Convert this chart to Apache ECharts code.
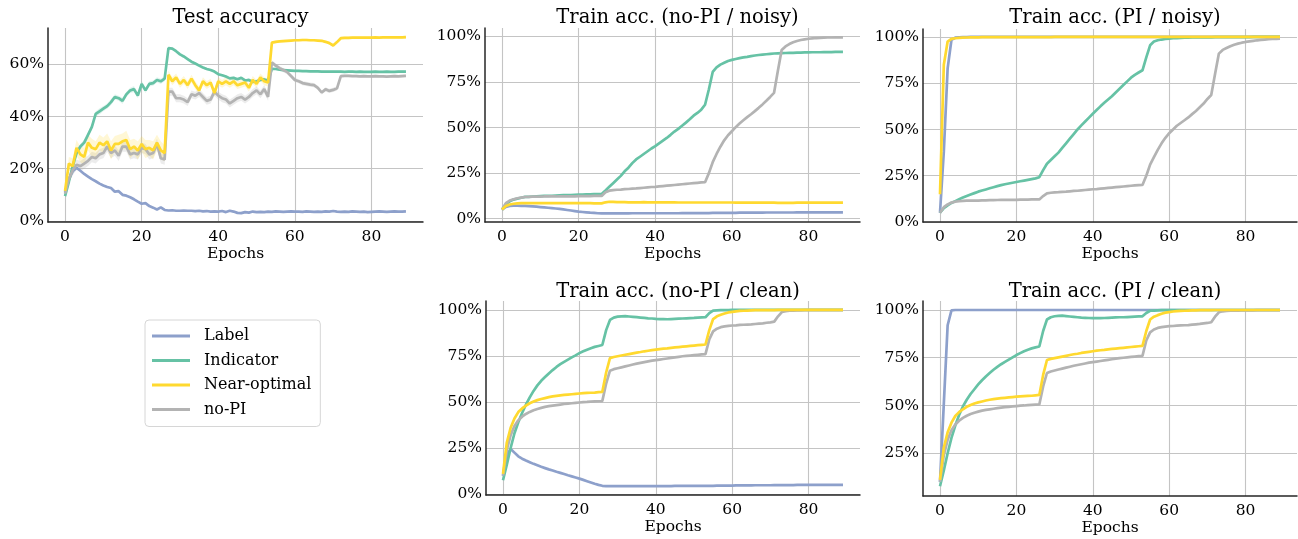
<!DOCTYPE html>
<html>
<head>
<meta charset="utf-8">
<script src="https://cdn.jsdelivr.net/npm/echarts@6/dist/echarts.min.js"></script>
<style>
  html, body { margin: 0; padding: 0; background: #fff; }
  #chart { width: 1298px; height: 539px; }
</style>
</head>
<body>
<div id="chart"></div>
<script>
// ---------------- DATA (values in %, epochs 0..89) ----------------
const seriesNames = ['Label', 'Indicator', 'Near-optimal', 'no-PI'];
const xTicks = [0, 20, 40, 60, 80];
const yTicksTest = [0, 20, 40, 60];
const yTicksTrain = [0, 25, 50, 75, 100];
const yTicksTrainPIClean = [25, 50, 75, 100];
const panelTitles = ['Test accuracy', 'Train acc. (no-PI / noisy)', 'Train acc. (PI / noisy)',
                     'Train acc. (no-PI / clean)', 'Train acc. (PI / clean)'];

// Test accuracy
const testLabel = [
  11, 16, 19, 20.4, 19.2, 18, 17, 16, 15.2, 14.3,
  13.6, 13, 12.6, 11.2, 11.4, 10, 9.7, 9.1, 8.3, 7.4,
  6.6, 6.8, 5.7, 5.1, 4.4, 5.2, 4.2, 4, 4.1, 3.9,
  3.9, 4, 3.9, 3.9, 3.8, 3.9, 3.7, 3.8, 3.6, 3.7,
  3.6, 3.8, 3.4, 3.9, 3.6, 3.1, 3, 3.4, 3.2, 3.6,
  3.4, 3.5, 3.4, 3.6, 3.5, 3.7, 3.6, 3.5, 3.6, 3.7,
  3.6, 3.6, 3.5, 3.7, 3.6, 3.5, 3.6, 3.5, 3.7, 3.6,
  3.8, 3.6, 3.5, 3.6, 3.5, 3.7, 3.6, 3.5, 3.6, 3.4,
  3.5, 3.6, 3.7, 3.6, 3.5, 3.6, 3.7, 3.6, 3.6, 3.7
];
const testIndicator = [
  9.5, 15, 21, 26, 28.5, 30, 33, 36, 41, 42,
  43, 44, 45.5, 47.5, 47, 46, 48.5, 50, 50.5, 48,
  52.5, 50, 52.5, 52.8, 54, 53.5, 54.5, 66.2, 66, 65,
  63.8, 63, 62, 61, 60.3, 59.5, 58.8, 58.2, 57.8, 57.2,
  56.2, 55.8, 55.3, 54.6, 54.8, 54.3, 54.8, 53.8, 54, 53.2,
  53.5, 54, 54.2, 53.8, 58.3, 58.2, 57.9, 57.8, 57.7, 57.6,
  57.5, 57.5, 57.4, 57.4, 57.3, 57.3, 57.3, 57.2, 57.2, 57.2,
  57.2, 57.2, 57.2, 57.1, 57.2, 57.2, 57.1, 57.2, 57.1, 57.1,
  57.1, 57.2, 57.1, 57.1, 57.2, 57.1, 57.1, 57.2, 57.2, 57.2
];
const testNearOpt = [
  11.5, 22, 21, 28, 25.5, 24.5, 30, 28, 27.5, 30,
  29, 30.5, 27, 29.5, 29.5, 30.5, 31, 27.5, 28.5, 27,
  29.5, 27.5, 28, 27, 30, 27, 26, 56, 53.5, 55,
  52.5, 54, 52, 54.5, 52, 50, 53.5, 52, 53, 49,
  53.5, 52.5, 53.5, 52.5, 53.5, 52, 52.5, 53, 51, 54,
  52.5, 55, 53.5, 53, 68.3, 68.6, 68.8, 68.9, 69, 69.1,
  69.2, 69.2, 69.3, 69.3, 69.2, 69.2, 69.1, 69, 68.6, 68.1,
  67.2, 68.5, 70, 70.1, 70.1, 70.2, 70.2, 70.2, 70.2, 70.2,
  70.2, 70.3, 70.2, 70.3, 70.3, 70.3, 70.3, 70.3, 70.3, 70.4
];
const testNoPI = [
  10.5, 16, 19.5, 21.5, 21, 22, 23, 24.5, 24, 25.5,
  26, 28.5, 26, 27, 25, 28.5, 28.5, 25.5, 26, 25.5,
  28, 27.5, 25.5, 26, 29.5, 24, 23.5, 49.5, 49.5, 47,
  47, 46.5, 45.5, 48.5, 48, 49, 47.5, 46, 46.5, 49.5,
  48, 47, 46.5, 45, 46, 47, 47.5, 46.5, 47.5, 49,
  50, 48.5, 50.5, 47.5, 60.7, 59.5, 58.5, 57.8, 57, 55.5,
  54, 53.5, 52.8, 52.5, 52.2, 52, 51, 49.2, 50.4, 49.8,
  50.2, 50.8, 55.5, 55.6, 55.6, 55.5, 55.5, 55.4, 55.5, 55.4,
  55.4, 55.5, 55.4, 55.4, 55.3, 55.4, 55.5, 55.4, 55.5, 55.6
];
// half-widths of the shaded spread around the test curves
const testIndicatorSpread = [
  0.5, 1, 1, 1.2, 1, 1.2, 1, 1.2, 1, 1.2,
  1, 1, 1.2, 1, 1, 1.2, 1, 1, 1.2, 1,
  1.2, 1, 1, 1, 1, 1, 1, 0.5, 0.5, 0.5,
  0.5, 0.5, 0.5, 0.5, 0.5, 0.5, 0.5, 0.5, 0.5, 0.5,
  0.5, 0.5, 0.5, 0.5, 0.5, 0.5, 0.5, 0.5, 0.5, 0.5,
  0.5, 0.5, 0.5, 0.5, 0.4, 0.4, 0.4, 0.4, 0.4, 0.4,
  0.4, 0.4, 0.4, 0.4, 0.4, 0.4, 0.4, 0.4, 0.4, 0.4,
  0.4, 0.4, 0.4, 0.4, 0.4, 0.4, 0.4, 0.4, 0.4, 0.4,
  0.4, 0.4, 0.4, 0.4, 0.4, 0.4, 0.4, 0.4, 0.4, 0.4
];
const testNearOptSpread = [
  0.8, 2.5, 3, 3, 3, 3.5, 3, 3.5, 3, 3,
  3, 3, 3.5, 3, 3.5, 3, 3.5, 3.5, 3, 3.5,
  3, 3.5, 3, 3.5, 3, 3.5, 3, 1.5, 1.5, 1.5,
  1.5, 1.5, 1.5, 1.5, 1.5, 1.5, 1.5, 1.5, 1.5, 1.5,
  1.5, 1.5, 1.5, 1.5, 1.5, 1.5, 1.5, 1.5, 1.5, 1.5,
  1.5, 1.5, 1.5, 1.5, 0.5, 0.5, 0.5, 0.5, 0.5, 0.5,
  0.5, 0.5, 0.5, 0.5, 0.5, 0.5, 0.5, 0.5, 0.5, 0.5,
  0.5, 0.5, 0.5, 0.5, 0.5, 0.5, 0.5, 0.5, 0.5, 0.5,
  0.5, 0.5, 0.5, 0.5, 0.5, 0.5, 0.5, 0.5, 0.5, 0.5
];
const testNoPISpread = [
  0.8, 1.5, 2, 2, 2, 2, 2, 2, 2, 2,
  2, 2, 2, 2, 2, 2, 2, 2, 2, 2,
  2, 2, 2, 2, 2, 2, 2, 1.5, 1.5, 1.5,
  1.5, 1.5, 1.5, 1.5, 1.5, 1.5, 1.5, 1.5, 1.5, 1.5,
  1.5, 1.5, 1.5, 1.5, 1.5, 1.5, 1.5, 1.5, 1.5, 1.5,
  1.5, 1.5, 1.5, 1.5, 0.8, 0.8, 0.8, 0.8, 0.8, 0.8,
  0.8, 0.8, 0.8, 0.8, 0.8, 0.8, 0.8, 0.8, 0.8, 0.8,
  0.8, 0.8, 0.5, 0.5, 0.5, 0.5, 0.5, 0.5, 0.5, 0.5,
  0.5, 0.5, 0.5, 0.5, 0.5, 0.5, 0.5, 0.5, 0.5, 0.5
];

// Train acc. (no-PI / noisy)
const noisyNoPILabel = [
  5, 6.5, 7, 7.1, 7.1, 7, 7, 6.9, 6.8, 6.6,
  6.4, 6.2, 6, 5.8, 5.6, 5.4, 5.1, 4.8, 4.5, 4.2,
  3.9, 3.7, 3.5, 3.3, 3.2, 3, 2.9, 2.9, 2.9, 2.9,
  2.9, 2.9, 2.9, 2.9, 3, 3, 3, 3, 3, 3,
  3, 3, 3, 3, 3, 3, 3, 3.1, 3.1, 3.1,
  3.1, 3.1, 3.1, 3.1, 3.1, 3.2, 3.2, 3.2, 3.2, 3.2,
  3.2, 3.2, 3.3, 3.3, 3.3, 3.3, 3.3, 3.3, 3.3, 3.4,
  3.4, 3.4, 3.4, 3.4, 3.4, 3.4, 3.4, 3.5, 3.5, 3.5,
  3.5, 3.5, 3.5, 3.5, 3.5, 3.5, 3.5, 3.5, 3.5, 3.5
];
const noisyNoPIIndicator = [
  5, 8, 9.5, 10.5, 11, 11.5, 12, 12, 12.2, 12.3,
  12.4, 12.5, 12.5, 12.6, 12.7, 12.8, 12.9, 13, 13, 13.1,
  13.2, 13.2, 13.3, 13.4, 13.5, 13.5, 13.6, 15.5, 17.5, 19.5,
  21.5, 23.5, 26, 28, 30.5, 32.5, 34, 35.5, 37, 38.5,
  39.8, 41.3, 42.8, 44.3, 46, 47.8, 49.3, 51, 52.7, 54.5,
  56.5, 58, 59.8, 62.5, 71, 80.5, 83, 84.5, 85.5, 86.5,
  87.1, 87.6, 88.1, 88.5, 88.8, 89.2, 89.5, 89.8, 90, 90.2,
  90.4, 90.6, 90.7, 90.8, 90.9, 91, 91, 91.1, 91.1, 91.2,
  91.2, 91.3, 91.3, 91.3, 91.4, 91.4, 91.4, 91.5, 91.5, 91.5
];
const noisyNoPINearOpt = [
  5, 7, 7.8, 8.2, 8.4, 8.5, 8.5, 8.5, 8.6, 8.6,
  8.6, 8.6, 8.6, 8.6, 8.6, 8.6, 8.6, 8.6, 8.6, 8.6,
  8.6, 8.6, 8.5, 8.5, 8.4, 8.4, 8.4, 9, 9.3, 9.2,
  9.1, 9.1, 9.1, 9, 9, 9, 9, 9.1, 9, 9,
  9, 9, 9, 9, 9, 9, 8.9, 8.9, 8.9, 8.9,
  8.9, 8.9, 8.9, 8.9, 8.9, 8.9, 8.9, 8.9, 8.9, 8.9,
  8.9, 8.8, 8.8, 8.8, 8.8, 8.8, 8.8, 8.8, 8.8, 8.8,
  8.8, 8.8, 8.7, 8.7, 8.7, 8.7, 8.7, 8.8, 8.8, 8.8,
  8.8, 8.8, 8.8, 8.8, 8.8, 8.8, 8.8, 8.8, 8.8, 8.8
];
const noisyNoPINoPI = [
  5, 8.5, 10, 10.7, 11.2, 11.6, 11.9, 12, 12.1, 12.1,
  12.1, 12.2, 12.2, 12.2, 12.2, 12.3, 12.3, 12.3, 12.3, 12.3,
  12.4, 12.4, 12.4, 12.4, 12.5, 12.5, 12.5, 14.5, 15.4, 15.7,
  15.9, 16, 16.2, 16.3, 16.5, 16.6, 16.8, 17, 17.2, 17.4,
  17.5, 17.7, 17.9, 18.1, 18.3, 18.5, 18.7, 18.9, 19.1, 19.3,
  19.5, 19.7, 19.9, 20, 25, 31, 35.5, 39.5, 43, 45.8,
  48, 50.2, 52.2, 54, 55.7, 57.3, 59, 60.8, 62.7, 64.7,
  66.8, 69, 81, 92.5, 94.5, 95.8, 96.8, 97.5, 98, 98.4,
  98.7, 98.9, 99.1, 99.2, 99.3, 99.4, 99.4, 99.5, 99.5, 99.5
];

// Train acc. (PI / noisy)
const noisyPILabel = [
  5, 38, 83, 98.5, 99.6, 99.8, 99.9, 99.9, 100, 100,
  100, 100, 100, 100, 100, 100, 100, 100, 100, 100,
  100, 100, 100, 100, 100, 100, 100, 100, 100, 100,
  100, 100, 100, 100, 100, 100, 100, 100, 100, 100,
  100, 100, 100, 100, 100, 100, 100, 100, 100, 100,
  100, 100, 100, 100, 100, 100, 100, 100, 100, 100,
  100, 100, 100, 100, 100, 100, 100, 100, 100, 100,
  100, 100, 100, 100, 100, 100, 100, 100, 100, 100,
  100, 100, 100, 100, 100, 100, 100, 100, 100, 100
];
const noisyPIIndicator = [
  5, 7.5, 9, 10.3, 11.3, 12.3, 13.2, 14, 14.8, 15.6,
  16.4, 17, 17.6, 18.2, 18.8, 19.4, 19.9, 20.4, 20.8, 21.2,
  21.6, 22, 22.4, 22.8, 23.2, 23.6, 24.2, 28, 31.5, 33.5,
  35.5, 37.5, 40, 42.5, 45, 47.5, 50, 52.2, 54.3, 56.4,
  58.5, 60.5, 62.5, 64.4, 66.2, 68, 70, 72, 74, 76,
  78, 79.5, 80.8, 82, 89, 95.5, 97.5, 98.2, 98.6, 98.9,
  99.1, 99.3, 99.4, 99.5, 99.6, 99.6, 99.7, 99.7, 99.8, 99.8,
  99.8, 99.8, 99.9, 99.9, 99.9, 99.9, 99.9, 99.9, 99.9, 99.9,
  99.9, 99.9, 100, 100, 100, 100, 100, 100, 100, 100
];
const noisyPINearOpt = [
  15, 85, 97.5, 99, 99.3, 99.5, 99.6, 99.7, 99.8, 99.8,
  99.8, 99.9, 99.9, 99.9, 99.9, 99.9, 99.9, 99.9, 99.9, 99.9,
  99.9, 99.9, 99.9, 99.9, 99.9, 99.9, 99.9, 99.9, 99.9, 99.9,
  100, 100, 100, 100, 100, 100, 100, 100, 100, 100,
  100, 100, 100, 100, 100, 100, 100, 100, 100, 100,
  100, 100, 100, 100, 100, 100, 100, 100, 100, 100,
  100, 100, 100, 100, 100, 100, 100, 100, 100, 100,
  100, 100, 100, 100, 100, 100, 100, 100, 100, 100,
  100, 100, 100, 100, 100, 100, 100, 100, 100, 100
];
const noisyPINoPI = [
  5, 8, 9.5, 10.5, 11, 11.2, 11.4, 11.5, 11.6, 11.6,
  11.6, 11.7, 11.7, 11.8, 11.8, 11.9, 12, 12, 12, 12,
  12, 12.1, 12.1, 12.1, 12.2, 12.2, 12.2, 14, 15.5, 15.8,
  16, 16.1, 16.3, 16.4, 16.6, 16.8, 16.9, 17.1, 17.3, 17.5,
  17.7, 17.8, 18, 18.2, 18.4, 18.6, 18.8, 19, 19.2, 19.4,
  19.6, 19.8, 19.9, 20, 25, 31, 35, 39, 42.5, 45.5,
  48, 50, 52, 53.5, 55, 56.5, 58.3, 60, 62, 64,
  66.5, 68.6, 80, 91, 93, 94, 95, 95.8, 96.4, 96.9,
  97.3, 97.6, 97.9, 98.2, 98.4, 98.6, 98.8, 98.9, 99, 99.1
];

// Train acc. (no-PI / clean)
const cleanNoPILabel = [
  10, 21, 24.5, 22.5, 20.5, 19.2, 18.2, 17.3, 16.4, 15.6,
  14.8, 14.1, 13.4, 12.8, 12.1, 11.5, 10.9, 10.2, 9.6, 9,
  8.4, 7.7, 7, 6.3, 5.6, 5, 4.5, 4.3, 4.3, 4.3,
  4.3, 4.3, 4.3, 4.3, 4.3, 4.3, 4.3, 4.3, 4.3, 4.3,
  4.3, 4.3, 4.3, 4.3, 4.3, 4.4, 4.4, 4.4, 4.4, 4.4,
  4.5, 4.5, 4.5, 4.5, 4.5, 4.5, 4.6, 4.6, 4.6, 4.6,
  4.6, 4.7, 4.7, 4.7, 4.7, 4.7, 4.8, 4.8, 4.8, 4.8,
  4.8, 4.9, 4.9, 4.9, 4.9, 4.9, 4.9, 5, 5, 5,
  5, 5, 5, 5, 5, 5, 5, 5, 5, 5
];
const cleanNoPIIndicator = [
  7.5, 16, 25, 33, 39, 44, 48.5, 52.5, 56, 59,
  61.5, 63.5, 65.5, 67.3, 69, 70.5, 71.8, 73, 74.2, 75.3,
  76.5, 77.5, 78.4, 79.2, 79.9, 80.4, 80.9, 89, 94.5, 95.8,
  96.3, 96.5, 96.6, 96.4, 96.2, 96, 95.8, 95.6, 95.4, 95.3,
  95.1, 95, 95, 94.9, 95, 95.1, 95.2, 95.3, 95.4, 95.5,
  95.6, 95.8, 95.9, 96, 98.2, 99.6, 99.7, 99.8, 99.9, 99.9,
  100, 100, 100, 100, 100, 100, 100, 100, 100, 100,
  100, 100, 100, 100, 100, 100, 100, 100, 100, 100,
  100, 100, 100, 100, 100, 100, 100, 100, 100, 100
];
const cleanNearOpt = [
  11, 28, 36, 41, 44.5, 46.5, 48, 49.3, 50.2, 51,
  51.6, 52.1, 52.6, 53, 53.3, 53.6, 53.8, 54, 54.2, 54.4,
  54.6, 54.8, 54.9, 55, 55.1, 55.3, 55.5, 66, 73.8, 74.4,
  74.8, 75.2, 75.6, 76, 76.4, 76.8, 77.1, 77.5, 77.8, 78.1,
  78.4, 78.7, 78.9, 79.1, 79.4, 79.6, 79.8, 80, 80.2, 80.4,
  80.6, 80.8, 81, 81.2, 89, 95, 96.5, 97.3, 98, 98.6,
  98.9, 99.2, 99.4, 99.5, 99.6, 99.7, 99.8, 99.8, 99.9, 99.9,
  99.9, 99.9, 100, 100, 100, 100, 100, 100, 100, 100,
  100, 100, 100, 100, 100, 100, 100, 100, 100, 100
];
const cleanNoPI = [
  10, 24, 32, 37, 40, 42, 43.5, 44.6, 45.5, 46.2,
  46.8, 47.3, 47.7, 48, 48.3, 48.6, 48.9, 49.1, 49.3, 49.5,
  49.7, 49.9, 50, 50.2, 50.3, 50.4, 50.5, 60, 67, 67.8,
  68.3, 68.8, 69.3, 69.8, 70.3, 70.8, 71.2, 71.6, 72, 72.4,
  72.7, 73, 73.3, 73.6, 73.9, 74.2, 74.5, 74.8, 75, 75.2,
  75.4, 75.6, 75.8, 76, 84, 88.3, 89.8, 90.6, 91, 91.3,
  91.5, 91.6, 91.8, 91.9, 92, 92.1, 92.3, 92.5, 92.7, 93,
  93.2, 93.6, 96.5, 98.8, 99.3, 99.5, 99.6, 99.7, 99.7, 99.8,
  99.8, 99.8, 99.8, 99.9, 99.9, 99.9, 99.9, 99.9, 99.9, 99.9
];

// Train acc. (PI / clean)
const cleanPILabel = [
  10, 51, 92, 99.8, 100, 100, 100, 100, 100, 100,
  100, 100, 100, 100, 100, 100, 100, 100, 100, 100,
  100, 100, 100, 100, 100, 100, 100, 100, 100, 100,
  100, 100, 100, 100, 100, 100, 100, 100, 100, 100,
  100, 100, 100, 100, 100, 100, 100, 100, 100, 100,
  100, 100, 100, 100, 100, 100, 100, 100, 100, 100,
  100, 100, 100, 100, 100, 100, 100, 100, 100, 100,
  100, 100, 100, 100, 100, 100, 100, 100, 100, 100,
  100, 100, 100, 100, 100, 100, 100, 100, 100, 100
];
const cleanPIIndicator = [
  7.7, 16, 25, 33, 39.5, 45, 49.5, 53, 56, 58.5,
  61, 63.2, 65.2, 67, 68.7, 70.2, 71.6, 72.8, 74, 75.2,
  76.4, 77.4, 78.4, 79.2, 79.9, 80.4, 80.9, 89, 95, 96.2,
  96.7, 96.9, 97, 96.8, 96.6, 96.4, 96.2, 96, 95.9, 95.8,
  95.7, 95.7, 95.7, 95.8, 95.9, 96, 96.1, 96.2, 96.2, 96.3,
  96.4, 96.5, 96.6, 96.7, 98.4, 99.6, 99.7, 99.8, 99.9, 99.9,
  100, 100, 100, 100, 100, 100, 100, 100, 100, 100,
  100, 100, 100, 100, 100, 100, 100, 100, 100, 100,
  100, 100, 100, 100, 100, 100, 100, 100, 100, 100
];

// ---------------- CHART ----------------
const FONT = 'DejaVu Serif';
const COLORS = { 'Label': '#8da0cb', 'Indicator': '#66c2a5', 'Near-optimal': '#ffd92f', 'no-PI': '#b3b3b3' };
const epochs = testLabel.map((_, i) => i);
const pts = arr => arr.map((v, i) => [epochs[i], v]);

const panels = [
  { grid: { left: 48, top: 28, width: 375, height: 194 }, yMin: -0.4, yMax: 73.9, yTicks: yTicksTest,
    lines: [testLabel, testIndicator, testNoPI, testNearOpt],
    bands: [[testIndicator, testIndicatorSpread, 'rgba(102,194,165,0.18)'],
            [testNoPI, testNoPISpread, 'rgba(179,179,179,0.25)'],
            [testNearOpt, testNearOptSpread, 'rgba(255,217,47,0.2)']] },
  { grid: { left: 485, top: 28, width: 375, height: 194 }, yMin: -1.8, yMax: 104.6, yTicks: yTicksTrain,
    lines: [noisyNoPILabel, noisyNoPIIndicator, noisyNoPINoPI, noisyNoPINearOpt], bands: [] },
  { grid: { left: 923, top: 29, width: 374, height: 193 }, yMin: 0, yMax: 104.3, yTicks: yTicksTrain,
    lines: [noisyPILabel, noisyPIIndicator, noisyPINoPI, noisyPINearOpt], bands: [] },
  { grid: { left: 486, top: 301, width: 374, height: 194 }, yMin: -0.5, yMax: 104.8, yTicks: yTicksTrain,
    lines: [cleanNoPILabel, cleanNoPIIndicator, cleanNoPI, cleanNearOpt], bands: [] },
  { grid: { left: 923, top: 301, width: 374, height: 195 }, yMin: 2.6, yMax: 104.7, yTicks: yTicksTrainPIClean,
    lines: [cleanPILabel, cleanPIIndicator, cleanNoPI, cleanNearOpt], bands: [] }
];
const lineOrder = ['Label', 'Indicator', 'no-PI', 'Near-optimal'];

const grids = [], xAxes = [], yAxes = [], series = [], titles = [];
panels.forEach((p, k) => {
  grids.push(Object.assign({ outerBoundsMode: 'none', containLabel: false }, p.grid));
  xAxes.push({
    type: 'value', gridIndex: k, min: -4.45, max: 93.45,
    name: 'Epochs', nameLocation: 'middle', nameGap: 24,
    nameTextStyle: { fontFamily: FONT, fontSize: 15.5, color: '#000' },
    axisLine: { show: true, onZero: false, lineStyle: { color: '#262626', width: 1.5 } },
    axisTick: { show: false, customValues: xTicks },
    axisLabel: { customValues: xTicks, margin: 7, fontFamily: FONT, fontSize: 15.5, color: '#000' },
    splitLine: { show: true, lineStyle: { color: '#c4c4c4', width: 1.1 } }
  });
  yAxes.push({
    type: 'value', gridIndex: k, min: p.yMin, max: p.yMax,
    axisLine: { show: true, onZero: false, lineStyle: { color: '#262626', width: 1.5 } },
    axisTick: { show: false, customValues: p.yTicks },
    axisLabel: { customValues: p.yTicks, margin: 4, fontFamily: FONT, fontSize: 15.5, color: '#000',
                 formatter: v => v + '%' },
    splitLine: { show: true, lineStyle: { color: '#c4c4c4', width: 1.1 } }
  });
  const cx = p.grid.left + p.grid.width / 2;
  titles.push({ text: panelTitles[k], left: cx, top: k < 3 ? 3 : 277, textAlign: 'center',
                textStyle: { fontFamily: FONT, fontSize: 19.5, fontWeight: 'normal', color: '#000' } });
  p.bands.forEach(([mean, spread, color]) => {
    series.push({
      type: 'custom', xAxisIndex: k, yAxisIndex: k, silent: true, z: 1,
      data: [[0, 0]],
      renderItem: (params, api) => {
        const upper = mean.map((m, i) => api.coord([epochs[i], m + spread[i]]));
        const lower = mean.map((m, i) => api.coord([epochs[i], m - spread[i]])).reverse();
        return { type: 'polygon', shape: { points: upper.concat(lower) }, style: { fill: color } };
      }
    });
  });
  const byName = { 'Label': p.lines[0], 'Indicator': p.lines[1], 'no-PI': p.lines[2], 'Near-optimal': p.lines[3] };
  lineOrder.forEach(name => {
    series.push({ name: name, type: 'line', xAxisIndex: k, yAxisIndex: k, symbol: 'none', z: 3,
                  color: COLORS[name], lineStyle: { color: COLORS[name], width: 2.7 },
                  emphasis: { disabled: true }, data: pts(byName[name]) });
  });
});

const chart = echarts.init(document.getElementById('chart'), null, { renderer: 'canvas' });
chart.setOption({
  animation: false,
  backgroundColor: '#fff',
  title: titles,
  grid: grids,
  xAxis: xAxes,
  yAxis: yAxes,
  legend: {
    data: seriesNames, orient: 'vertical', left: 145, top: 320,
    icon: 'rect', itemWidth: 38, itemHeight: 3, itemGap: 8.5,
    padding: [8, 9, 9, 7],
    backgroundColor: '#fff', borderColor: '#d6d6d6', borderWidth: 1, borderRadius: 4,
    textStyle: { fontFamily: FONT, fontSize: 16, color: '#000', padding: [0, 0, 0, 9] }
  },
  series: series
});
</script>
</body>
</html>
